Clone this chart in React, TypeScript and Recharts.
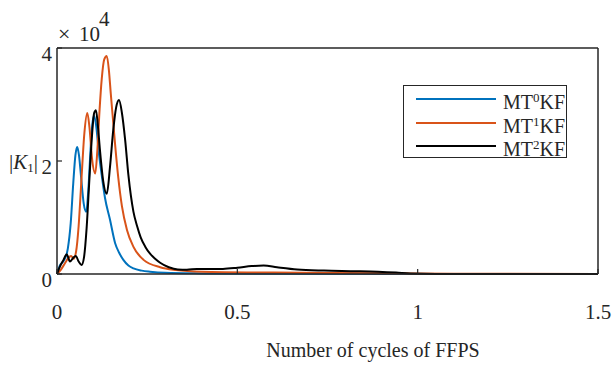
import React from 'react'
import { LineChart, Line, XAxis, YAxis } from 'recharts'

// x: number of cycles of FFPS, y: |K1| in units of 1e4
const mt0kf = [
  [0, 0], [0.008, 0.15], [0.02, 0.25], [0.03, 0.45], [0.038, 0.9], [0.045, 1.6], [0.051, 2.1],
  [0.056, 2.25], [0.061, 2.1], [0.067, 1.7], [0.074, 1.25], [0.081, 1.1], [0.087, 1.5], [0.093, 2.2],
  [0.098, 2.65], [0.103, 2.8], [0.109, 2.6], [0.116, 2.15], [0.124, 1.75], [0.133, 1.35], [0.147, 0.96],
  [0.161, 0.55], [0.172, 0.38], [0.184, 0.25], [0.198, 0.15], [0.212, 0.1], [0.235, 0.06], [0.258, 0.04],
  [0.3, 0.02], [0.4, 0.01], [0.6, 0.003], [1.0, 0], [1.5, 0],
]

const mt1kf = [
  [0, 0], [0.01, 0.07], [0.022, 0.19], [0.031, 0.28], [0.039, 0.32], [0.046, 0.27], [0.053, 0.4],
  [0.06, 0.85], [0.068, 1.7], [0.076, 2.5], [0.084, 2.85], [0.09, 2.6], [0.097, 2.05], [0.106, 1.78],
  [0.112, 2.2], [0.118, 2.9], [0.124, 3.45], [0.131, 3.8], [0.138, 3.86], [0.144, 3.6], [0.149, 3.2],
  [0.155, 2.75], [0.161, 2.3], [0.17, 1.7], [0.18, 1.2], [0.194, 0.78], [0.212, 0.48], [0.24, 0.25],
  [0.286, 0.12], [0.33, 0.07], [0.4, 0.04], [0.6, 0.025], [0.9, 0.015], [1.1, 0.005], [1.5, 0],
]

const mt2kf = [
  [0, 0], [0.008, 0.13], [0.018, 0.25], [0.027, 0.35], [0.036, 0.22], [0.044, 0.28], [0.052, 0.32],
  [0.06, 0.22], [0.068, 0.16], [0.075, 0.3], [0.082, 0.8], [0.09, 1.7], [0.097, 2.45], [0.103, 2.85],
  [0.108, 2.9], [0.113, 2.65], [0.119, 2.2], [0.128, 1.65], [0.138, 1.42], [0.147, 1.9], [0.156, 2.55],
  [0.164, 2.95], [0.172, 3.08], [0.18, 2.85], [0.189, 2.37], [0.198, 1.75], [0.212, 1.1], [0.222, 0.85],
  [0.232, 0.65], [0.245, 0.48], [0.258, 0.36], [0.272, 0.27], [0.286, 0.2], [0.31, 0.12], [0.335, 0.08],
  [0.36, 0.075], [0.388, 0.09], [0.42, 0.09], [0.46, 0.09], [0.5, 0.11], [0.54, 0.14], [0.573, 0.15],
  [0.61, 0.12], [0.666, 0.08], [0.74, 0.06], [0.814, 0.05], [0.89, 0.04], [0.94, 0.025], [0.98, 0.008],
  [1.05, 0], [1.5, 0],
]

const xTicks = [0, 0.5, 1, 1.5]
const yTicks = [0, 2, 4]

const series = [
  { name: 'MT', sup: '0', tail: 'KF', color: '#0072BD', data: mt0kf },
  { name: 'MT', sup: '1', tail: 'KF', color: '#D95319', data: mt1kf },
  { name: 'MT', sup: '2', tail: 'KF', color: '#000000', data: mt2kf },
]

const toPoints = (rows: number[][]) => rows.map(([x, y]) => ({ x, y }))

const FONT = '"Liberation Serif", "DejaVu Serif", serif'
const AXIS = '#262626'
const TICK_LEN = 5
const X_GAP = 30
const Y_GAP = 5

const BottomTick = (props: any) => {
  const { x, y, payload } = props
  const axisY = y - X_GAP
  return (
    <g>
      <line x1={x} x2={x} y1={axisY} y2={axisY - TICK_LEN} stroke={AXIS} strokeWidth={1.2} />
      <text x={x} y={y} dy="0.71em" textAnchor="middle" fontFamily={FONT} fontSize={21} fill={AXIS}>
        {payload.value}
      </text>
    </g>
  )
}

const TopTick = (props: any) => {
  const { x, y } = props
  return <line x1={x} x2={x} y1={y} y2={y + TICK_LEN} stroke={AXIS} strokeWidth={1.2} />
}

const LeftTick = (props: any) => {
  const { x, y, payload } = props
  const axisX = x + Y_GAP
  return (
    <g>
      <line x1={axisX} x2={axisX + TICK_LEN} y1={y} y2={y} stroke={AXIS} strokeWidth={1.2} />
      <text x={x} y={y + 6} dy="0.35em" textAnchor="end" fontFamily={FONT} fontSize={21} fill={AXIS}>
        {payload.value}
      </text>
    </g>
  )
}

const RightTick = (props: any) => {
  const { x, y } = props
  return <line x1={x} x2={x - TICK_LEN} y1={y} y2={y} stroke={AXIS} strokeWidth={1.2} />
}

const text = { position: 'absolute' as const, fontFamily: FONT, color: AXIS, lineHeight: 1, whiteSpace: 'nowrap' as const }

export default function App() {
  return (
    <div style={{ position: 'absolute', left: 0, top: 0, width: 616, height: 366, background: '#fff' }}>
      <LineChart width={616} height={366} margin={{ top: 47, right: 17, bottom: 0, left: 0 }}>
        <XAxis
          xAxisId={0}
          dataKey="x"
          type="number"
          domain={[0, 1.5]}
          ticks={xTicks}
          interval={0}
          height={92}
          tickSize={0}
          tickMargin={X_GAP}
          tick={<BottomTick />}
          stroke={AXIS}
          strokeWidth={1.5}
        />
        <XAxis
          xAxisId="top"
          orientation="top"
          type="number"
          domain={[0, 1.5]}
          ticks={xTicks}
          interval={0}
          height={1}
          tickSize={0}
          tickMargin={0}
          tick={<TopTick />}
          stroke={AXIS}
          strokeWidth={1.5}
        />
        <YAxis
          yAxisId={0}
          type="number"
          domain={[0, 4]}
          ticks={yTicks}
          interval={0}
          width={57}
          tickSize={0}
          tickMargin={Y_GAP}
          tick={<LeftTick />}
          stroke={AXIS}
          strokeWidth={1.5}
        />
        <YAxis
          yAxisId="right"
          orientation="right"
          type="number"
          domain={[0, 4]}
          ticks={yTicks}
          interval={0}
          width={1}
          tickSize={0}
          tickMargin={0}
          tick={<RightTick />}
          stroke={AXIS}
          strokeWidth={1.5}
        />
        {series.map((s) => (
          <Line
            key={s.sup}
            xAxisId={0}
            yAxisId={0}
            data={toPoints(s.data)}
            dataKey="y"
            type="monotone"
            stroke={s.color}
            strokeWidth={2}
            dot={false}
            isAnimationActive={false}
          />
        ))}
      </LineChart>

      {/* exponent above the y axis */}
      <div style={{ ...text, left: 58, top: 23, fontSize: 22 }}>×</div>
      <div style={{ ...text, left: 79, top: 24, fontSize: 21 }}>10</div>
      <div style={{ ...text, left: 99, top: 9, fontSize: 21 }}>4</div>

      {/* y axis label */}
      <div style={{ ...text, left: 9, top: 152, fontSize: 21 }}>
        |<i>K</i>
        <span style={{ fontSize: 13, verticalAlign: -3 }}>1</span>|
      </div>

      {/* x axis label */}
      <div style={{ ...text, left: 373, top: 340, fontSize: 20, transform: 'translateX(-50%)' }}>
        Number of cycles of FFPS
      </div>

      {/* legend */}
      <div
        style={{
          position: 'absolute',
          left: 403,
          top: 85,
          width: 162,
          height: 71,
          border: `1.5px solid ${AXIS}`,
          background: '#fff',
        }}
      >
        {series.map((s, i) => (
          <div key={s.sup} style={{ position: 'absolute', left: 0, top: 2 + i * 23.5, height: 23, width: '100%' }}>
            <div style={{ position: 'absolute', left: 12, top: 10, width: 80, height: 2, background: s.color }} />
            <div style={{ ...text, left: 99, top: 3, fontSize: 20 }}>
              {s.name}
              <span style={{ fontSize: 13, verticalAlign: 7 }}>{s.sup}</span>
              {s.tail}
            </div>
          </div>
        ))}
      </div>
    </div>
  )
}
